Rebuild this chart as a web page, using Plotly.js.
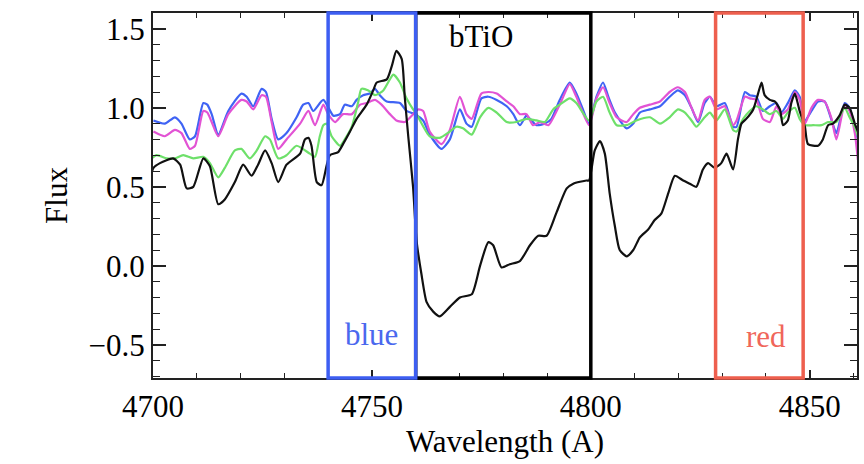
<!DOCTYPE html>
<html>
<head>
<meta charset="utf-8">
<script src="https://cdn.plot.ly/plotly-3.0.1.min.js"></script>
<style>html,body{margin:0;padding:0;background:#fff;}#chart{width:864px;height:464px;}</style>
</head>
<body>
<div id="chart"></div>
<script>
// ---- data ----
const blueWl = [4700.1,4702.7,4705.0,4706.5,4708.4,4709.6,4711.5,4712.4,4713.4,4714.9,4717.2,4720.2,4721.4,4722.9,4724.8,4725.8,4727.1,4728.6,4730.5,4732.8,4734.3,4735.5,4736.6,4738.9,4741.2,4742.7,4743.8,4745.4,4746.5,4748.0,4749.5,4750.7,4751.8,4753.4,4756.4,4757.9,4759.8,4761.7,4763.2,4765.9,4767.8,4770.1,4771.6,4772.8,4775.0,4776.6,4778.5,4780.8,4782.3,4783.8,4785.3,4786.1,4787.6,4789.5,4791.0,4792.9,4795.2,4796.7,4798.2,4799.6,4801.3,4802.8,4804.0,4805.5,4808.2,4809.7,4811.2,4813.5,4815.8,4818.0,4819.9,4821.5,4823.0,4824.5,4826.0,4827.2,4828.7,4830.6,4832.5,4833.3,4835.2,4836.3,4837.8,4839.3,4840.9,4842.4,4843.5,4845.0,4846.6,4847.7,4848.9,4850.4,4851.9,4853.4,4854.9,4856.1,4858.0,4859.1,4860.3,4861.0];
const blueFlux = [0.92,0.90,0.94,0.90,0.80,0.82,1.03,1.02,0.96,0.83,0.98,1.09,1.07,1.01,1.12,1.10,0.93,0.80,0.84,0.94,1.02,1.03,0.98,1.05,0.95,0.96,1.02,1.01,1.05,1.08,1.09,1.12,1.08,1.04,1.03,0.98,0.96,0.92,0.83,0.74,0.80,0.99,0.90,0.88,1.06,1.07,1.05,1.01,0.96,0.89,0.95,0.93,0.89,0.90,0.93,1.05,1.16,1.09,0.99,0.90,1.07,1.16,1.07,0.97,0.87,0.90,0.97,0.99,1.01,1.07,1.11,1.08,1.00,0.91,1.03,1.07,1.01,1.03,0.88,0.88,1.10,1.08,1.07,0.98,1.01,1.03,0.97,1.03,1.11,1.07,0.92,0.98,1.04,1.04,0.93,0.84,1.03,1.00,0.88,0.80];

const pinkWl = [4700.1,4702.7,4705.0,4706.5,4708.4,4709.6,4711.5,4712.4,4713.4,4714.9,4717.2,4720.2,4721.4,4722.9,4724.8,4725.8,4727.1,4728.6,4730.5,4733.6,4735.5,4737.0,4738.9,4740.0,4741.6,4743.4,4745.4,4747.3,4748.8,4750.7,4752.2,4754.1,4755.6,4757.5,4759.1,4760.6,4761.7,4763.2,4765.9,4767.8,4770.1,4771.6,4772.8,4775.0,4776.6,4778.5,4780.8,4782.3,4783.8,4785.3,4786.8,4788.4,4790.3,4792.9,4795.2,4796.7,4799.6,4801.3,4802.8,4804.3,4805.9,4808.2,4809.7,4811.2,4813.5,4815.8,4818.0,4819.9,4821.5,4823.0,4824.5,4826.0,4827.2,4828.7,4830.6,4832.5,4833.3,4835.2,4836.3,4837.8,4839.3,4840.9,4842.4,4843.5,4845.0,4846.6,4847.7,4848.9,4850.4,4851.9,4853.4,4854.9,4856.1,4858.0,4859.1,4860.3,4861.0];
const pinkFlux = [0.85,0.82,0.86,0.84,0.74,0.76,0.98,0.97,0.91,0.82,0.96,1.05,1.04,0.99,1.08,1.07,0.91,0.74,0.80,0.90,0.98,0.89,1.02,0.96,0.91,0.96,0.96,1.02,1.03,1.05,1.02,0.96,0.92,0.91,0.95,0.99,0.98,0.85,0.77,0.86,1.07,0.96,0.93,1.09,1.10,1.09,1.04,1.01,0.96,0.96,0.89,0.91,0.89,1.02,1.15,1.07,0.89,1.06,1.13,1.03,0.94,0.91,0.96,1.00,1.02,1.04,1.10,1.13,1.10,1.00,0.92,1.05,1.07,0.99,1.01,0.89,0.92,1.07,1.06,1.05,0.93,0.91,1.01,0.96,0.99,1.10,1.05,0.90,1.00,1.05,1.04,0.94,0.80,1.02,0.98,0.84,0.67];

const greenWl = [4699.3,4700.8,4703.1,4705.0,4706.9,4709.2,4711.5,4713.0,4714.9,4716.4,4718.7,4720.2,4722.1,4723.7,4725.6,4726.7,4728.6,4730.5,4732.8,4735.8,4737.0,4738.1,4738.9,4739.7,4740.8,4742.7,4743.8,4745.4,4746.9,4747.6,4749.2,4750.7,4752.6,4754.1,4754.9,4756.4,4757.9,4759.4,4760.2,4763.2,4765.5,4767.8,4769.3,4770.8,4772.8,4774.7,4776.6,4778.5,4780.8,4783.0,4785.3,4787.6,4789.5,4791.4,4792.9,4795.2,4796.7,4799.6,4801.3,4802.8,4804.3,4805.9,4808.2,4810.4,4813.5,4815.8,4818.0,4819.9,4821.5,4823.0,4824.1,4826.0,4827.2,4828.7,4830.6,4832.5,4833.3,4834.8,4836.3,4837.8,4839.3,4840.9,4842.4,4843.9,4845.0,4846.6,4847.7,4848.9,4850.8,4852.7,4854.2,4856.1,4858.0,4859.1,4860.3,4861.0];
const greenFlux = [0.67,0.70,0.68,0.68,0.70,0.68,0.69,0.65,0.56,0.62,0.73,0.74,0.68,0.73,0.82,0.80,0.68,0.70,0.76,0.71,0.69,0.82,0.89,0.90,0.82,0.76,0.80,0.88,1.04,1.12,1.11,1.08,1.11,1.18,1.21,1.16,1.06,0.99,0.96,0.82,0.81,0.85,0.88,0.87,0.83,0.94,1.00,0.97,0.91,0.91,0.93,0.92,0.91,0.99,1.02,1.06,1.03,0.92,1.04,1.07,0.97,0.89,0.89,0.92,0.94,0.90,0.94,0.99,0.97,0.92,0.88,0.94,0.97,0.92,0.99,0.86,0.85,0.93,0.98,1.01,0.99,0.96,0.98,0.93,0.97,1.00,0.93,0.89,0.89,0.89,0.91,0.91,1.00,0.94,0.88,0.82];

const blackWl = [4699.3,4700.1,4701.6,4704.6,4706.2,4707.7,4709.2,4711.5,4713.0,4714.9,4716.4,4718.7,4720.6,4722.5,4724.0,4725.6,4727.1,4728.6,4730.5,4733.6,4734.7,4735.5,4736.2,4737.4,4738.5,4739.7,4740.4,4742.3,4743.4,4745.0,4746.5,4748.8,4750.3,4751.1,4753.4,4754.5,4755.6,4756.8,4757.5,4758.3,4759.4,4760.2,4761.3,4762.5,4764.0,4765.5,4767.8,4770.1,4772.8,4774.7,4776.6,4777.7,4779.6,4781.5,4783.8,4786.1,4788.0,4789.9,4792.2,4794.5,4796.0,4799.0,4799.6,4800.9,4802.1,4803.2,4804.3,4805.5,4806.6,4808.2,4809.7,4811.2,4813.1,4814.6,4816.1,4817.7,4819.2,4821.1,4822.6,4824.1,4825.6,4826.8,4828.3,4829.8,4831.0,4832.5,4833.6,4834.4,4835.5,4837.1,4838.2,4839.0,4839.7,4840.9,4842.0,4843.2,4843.9,4845.0,4845.8,4846.6,4847.7,4848.9,4849.6,4851.9,4853.0,4854.2,4855.3,4856.8,4858.0,4859.1,4860.3,4861.0];
const blackFlux = [0.54,0.62,0.65,0.68,0.64,0.49,0.50,0.68,0.63,0.39,0.42,0.53,0.64,0.57,0.64,0.73,0.65,0.53,0.64,0.71,0.80,0.81,0.76,0.53,0.51,0.64,0.70,0.72,0.77,0.85,0.93,1.02,1.11,1.16,1.18,1.26,1.36,1.31,1.07,0.82,0.50,0.16,-0.05,-0.23,-0.29,-0.32,-0.26,-0.20,-0.18,0.00,0.15,0.13,-0.01,0.01,0.03,0.13,0.19,0.19,0.34,0.49,0.52,0.54,0.54,0.73,0.79,0.71,0.46,0.25,0.10,0.06,0.10,0.18,0.23,0.29,0.33,0.46,0.57,0.54,0.52,0.50,0.61,0.65,0.62,0.65,0.71,0.61,0.80,0.90,0.93,0.99,1.09,1.16,1.08,1.05,1.04,0.99,0.89,0.92,1.03,1.09,0.98,0.88,0.77,0.76,0.80,0.89,0.90,0.95,1.02,1.00,0.90,0.85];

// bands (wavelength windows) and their labels
const bandNames  = ['bTiO', 'blue', 'red'];
const bandStart  = [4760, 4740, 4828.5];
const bandEnd    = [4800, 4760, 4848.5];
const bandLabelX = [4775, 4750, 4840];

// ---- styling ----
const FONT = 'Liberation Serif';
const bandColors = ['#000000', '#3d5ef2', '#ee5f4e'];
const labelColors = ['#000000', '#4a68ee', '#f0665a'];
const labelY = [0.935, 0.118, 0.113];

const lineStyle = (c) => ({color: c, width: 2.2, shape: 'spline', smoothing: 0.6});
const traces = [
  {x: blueWl, y: blueFlux, mode: 'lines', line: lineStyle('#3f63f4'), name: 'blue'},
  {x: pinkWl, y: pinkFlux, mode: 'lines', line: lineStyle('#e253d4'), name: 'pink'},
  {x: greenWl, y: greenFlux, mode: 'lines', line: lineStyle('#6ee06a'), name: 'green'},
  {x: blackWl, y: blackFlux, mode: 'lines', line: lineStyle('#111111'), name: 'black'}
];

const shapes = bandNames.map((n, i) => ({
  type: 'rect', xref: 'x', yref: 'paper',
  x0: bandStart[i], x1: bandEnd[i], y0: 0, y1: 1,
  line: {color: bandColors[i], width: 3.5}, fillcolor: 'rgba(0,0,0,0)', layer: 'above'
}));

const annotations = bandNames.map((n, i) => ({
  text: n, xref: 'x', yref: 'paper', x: bandLabelX[i], y: labelY[i],
  showarrow: false, xanchor: 'center', yanchor: 'middle',
  font: {family: FONT, size: 31, color: labelColors[i]}
}));

const layout = {
  width: 864, height: 464,
  margin: {l: 153, r: 7, t: 13, b: 86},
  paper_bgcolor: '#fff', plot_bgcolor: '#fff',
  showlegend: false,
  xaxis: {
    range: [4700, 4860.8], tickmode: 'linear', tick0: 4700, dtick: 50,
    showgrid: false, zeroline: false, showline: true, linecolor: '#222', linewidth: 2, mirror: 'ticks',
    ticks: 'inside', ticklen: 8, tickcolor: '#222', tickwidth: 1.5,
    tickfont: {family: FONT, size: 31, color: '#000'},
    minor: {dtick: 10, ticks: 'inside', ticklen: 5, tickcolor: '#222', tickwidth: 1.4},
    title: {text: 'Wavelength (A)', font: {family: FONT, size: 31, color: '#000'}, standoff: 6}
  },
  yaxis: {
    range: [-0.71, 1.6], tickmode: 'linear', tick0: 0, dtick: 0.5, tickformat: '.1f',
    showgrid: false, zeroline: false, showline: true, linecolor: '#222', linewidth: 2, mirror: 'ticks',
    ticks: 'inside', ticklen: 13, tickcolor: '#222', tickwidth: 1.5,
    tickfont: {family: FONT, size: 31, color: '#000'},
    minor: {dtick: 0.1, ticks: 'inside', ticklen: 7, tickcolor: '#222', tickwidth: 1.4},
    title: {text: 'Flux', font: {family: FONT, size: 31, color: '#000'}, standoff: 12}
  },
  shapes: shapes,
  annotations: annotations
};

Plotly.newPlot('chart', traces, layout, {displayModeBar: false});
</script>
</body>
</html>
